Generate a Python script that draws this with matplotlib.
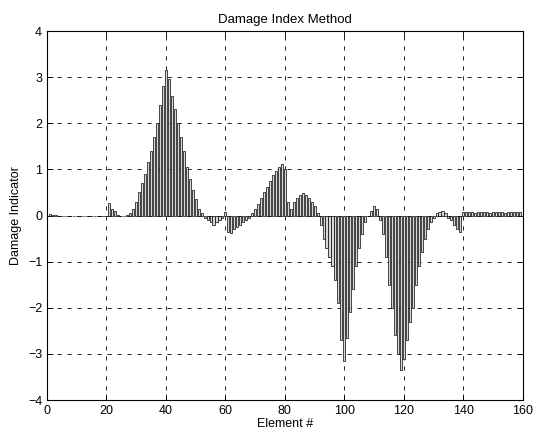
import numpy as np
import matplotlib
matplotlib.use("Agg")
import matplotlib.pyplot as plt

plt.rcParams.update({"font.family": "Liberation Sans", "font.size": 9})

# damage indicator per element
elements = np.arange(1, 161)
damage = np.array([
    # 1-20
    0.04, 0.02, 0.01, 0.0, 0.0, 0.0, 0.0, 0.0, 0.0, 0.0,
    0.0, 0.0, 0.0, 0.0, 0.0, 0.0, 0.0, 0.0, 0.0, 0.0,
    # 21-40
    0.27, 0.15, 0.1, 0.02, 0.0, 0.0, 0.02, 0.05, 0.15, 0.3,
    0.5, 0.7, 0.9, 1.15, 1.4, 1.7, 2.0, 2.4, 2.8, 3.15,
    # 41-60
    2.95, 2.6, 2.3, 2.0, 1.7, 1.4, 1.05, 0.8, 0.55, 0.35,
    0.15, 0.05, -0.05, -0.1, -0.15, -0.2, -0.15, -0.1, -0.05, 0.07,
    # 61-80
    -0.35, -0.38, -0.3, -0.25, -0.2, -0.15, -0.1, -0.05, 0.05, 0.15,
    0.25, 0.38, 0.5, 0.62, 0.75, 0.87, 0.97, 1.05, 1.12, 1.0,
    # 81-100
    0.3, 0.15, 0.3, 0.38, 0.45, 0.48, 0.45, 0.38, 0.3, 0.2,
    0.05, -0.2, -0.5, -0.7, -0.9, -1.1, -1.4, -1.9, -2.7, -3.15,
    # 101-120
    -2.65, -2.1, -1.6, -1.1, -0.7, -0.4, -0.15, 0.0, 0.1, 0.2,
    0.15, -0.1, -0.4, -0.9, -1.5, -2.0, -2.6, -3.0, -3.35, -3.1,
    # 121-140
    -2.7, -2.3, -2.0, -1.5, -1.1, -0.8, -0.5, -0.3, -0.15, -0.05,
    0.05, 0.08, 0.1, 0.06, -0.05, -0.1, -0.2, -0.3, -0.35, 0.07,
    # 141-160
    0.07, 0.08, 0.07, 0.06, 0.08, 0.07, 0.07, 0.08, 0.06, 0.07,
    0.08, 0.07, 0.07, 0.06, 0.08, 0.07, 0.07, 0.08, 0.07, 0.0,
])

x_ticks = [0, 20, 40, 60, 80, 100, 120, 140, 160]
y_ticks = [-4, -3, -2, -1, 0, 1, 2, 3, 4]

fig = plt.figure(figsize=(5.34, 4.43), dpi=100)
ax = fig.add_axes([0.088, 0.097, 0.891, 0.833])

ax.bar(elements, damage, width=0.7, facecolor="#d8d8d8", edgecolor="black",
       linewidth=0.5, zorder=3)

ax.set_xlim(0, 160)
ax.set_ylim(-4, 4)
ax.set_xticks(x_ticks)
ax.set_yticks(y_ticks)
ax.grid(True, color="black", linestyle=(0, (5, 7)), linewidth=0.6, zorder=0)
ax.tick_params(direction="in", length=4, width=0.6, labelsize=9, top=True, right=True)
for s in ax.spines.values():
    s.set_linewidth(0.8)

ax.set_title("Damage Index Method", fontsize=9.5, pad=6)
ax.set_xlabel("Element #", fontsize=9, labelpad=1)
ax.set_ylabel("Damage Indicator", fontsize=9, labelpad=4)

fig.savefig("out.png", facecolor="white")
